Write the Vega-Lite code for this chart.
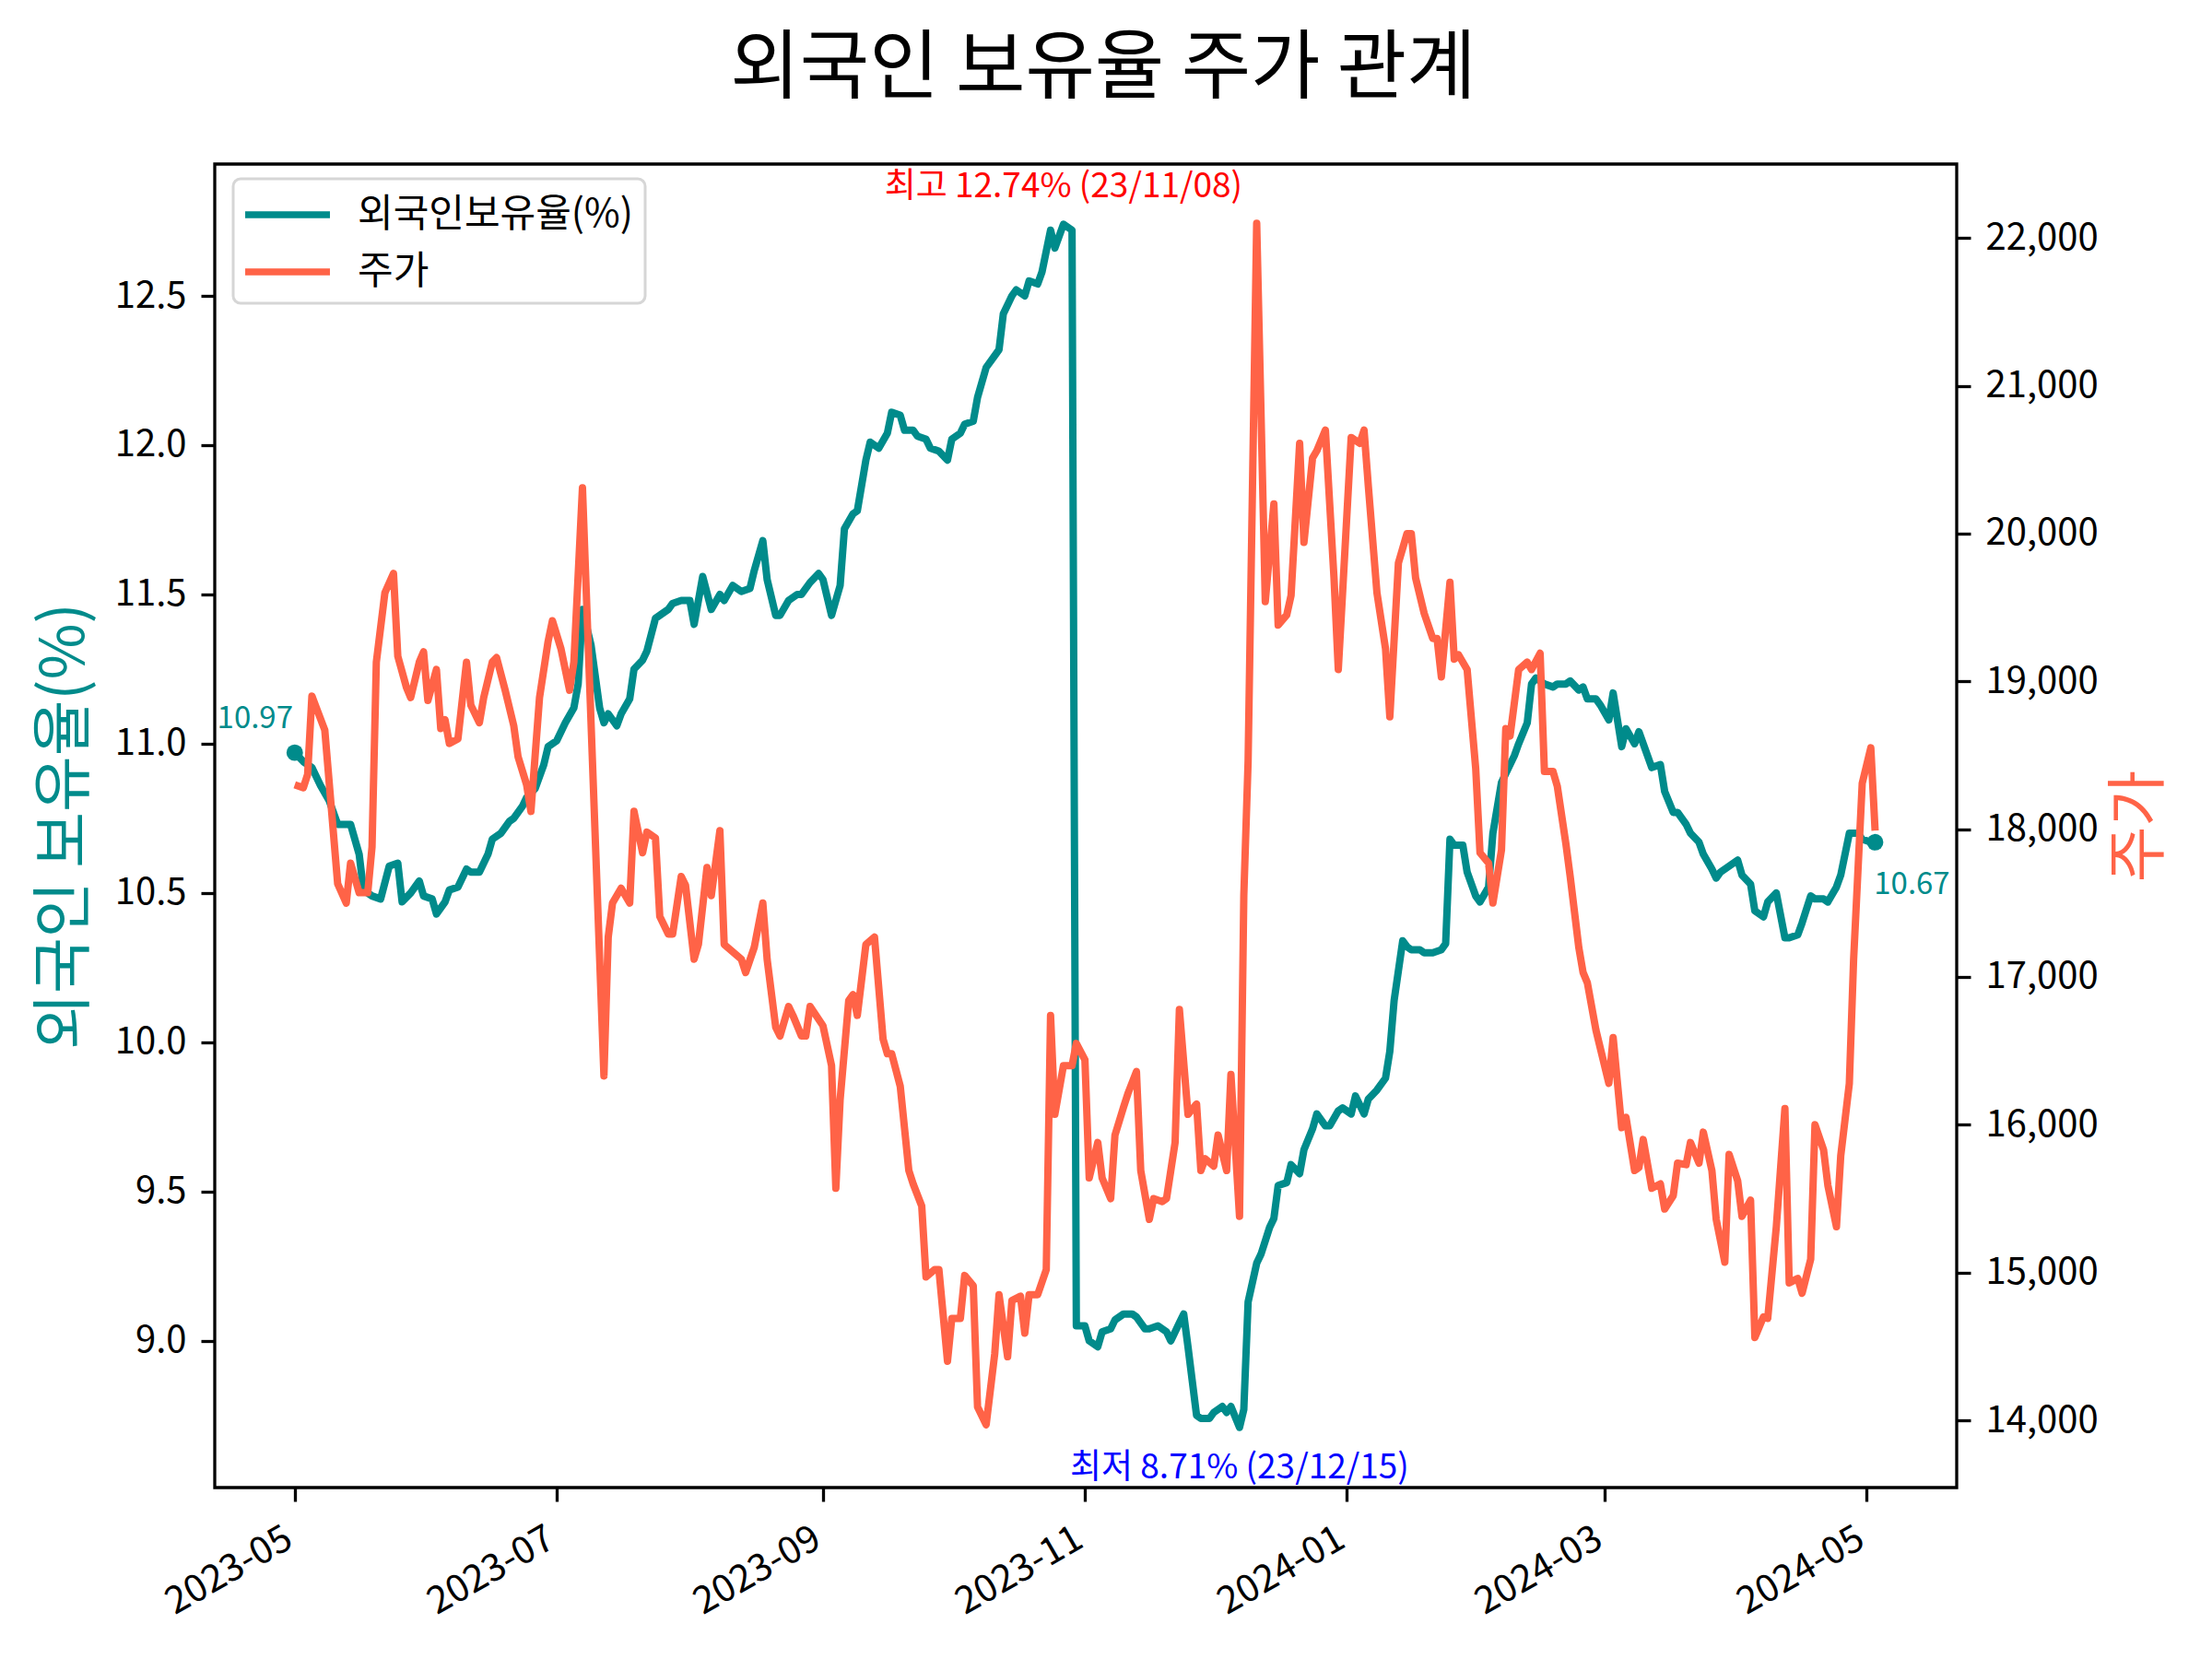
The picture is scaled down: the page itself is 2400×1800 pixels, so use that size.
{
  "$schema": "https://vega.github.io/schema/vega-lite/v6.json",
  "width": 1890,
  "height": 1436,
  "autosize": {"type": "none"},
  "padding": {"left": 233, "top": 178, "right": 277, "bottom": 186},
  "background": "white",
  "title": {
    "text": "외국인 보유율 주가 관계",
    "font": "Noto Sans CJK KR",
    "fontSize": 82,
    "fontWeight": "normal",
    "color": "black",
    "anchor": "middle",
    "frame": "group",
    "baseline": "alphabetic",
    "offset": 76,
    "dy": 80,
    "dx": 19
  },
  "datasets": {
    "ratio": [
      {"date": "2023-05-01", "ratio": 10.97}, {"date": "2023-05-03", "ratio": 10.94}, {"date": "2023-05-05", "ratio": 10.92},
      {"date": "2023-05-07", "ratio": 10.86}, {"date": "2023-05-09", "ratio": 10.81}, {"date": "2023-05-11", "ratio": 10.73},
      {"date": "2023-05-13", "ratio": 10.73}, {"date": "2023-05-14", "ratio": 10.73}, {"date": "2023-05-16", "ratio": 10.63},
      {"date": "2023-05-17", "ratio": 10.51}, {"date": "2023-05-19", "ratio": 10.49}, {"date": "2023-05-21", "ratio": 10.48},
      {"date": "2023-05-23", "ratio": 10.59}, {"date": "2023-05-25", "ratio": 10.60}, {"date": "2023-05-26", "ratio": 10.47},
      {"date": "2023-05-28", "ratio": 10.50}, {"date": "2023-05-30", "ratio": 10.54}, {"date": "2023-05-31", "ratio": 10.49},
      {"date": "2023-06-02", "ratio": 10.48}, {"date": "2023-06-03", "ratio": 10.43}, {"date": "2023-06-05", "ratio": 10.47},
      {"date": "2023-06-06", "ratio": 10.51}, {"date": "2023-06-08", "ratio": 10.52}, {"date": "2023-06-10", "ratio": 10.58},
      {"date": "2023-06-11", "ratio": 10.57}, {"date": "2023-06-13", "ratio": 10.57}, {"date": "2023-06-15", "ratio": 10.63},
      {"date": "2023-06-16", "ratio": 10.68}, {"date": "2023-06-18", "ratio": 10.70}, {"date": "2023-06-20", "ratio": 10.74},
      {"date": "2023-06-21", "ratio": 10.75}, {"date": "2023-06-23", "ratio": 10.79}, {"date": "2023-06-24", "ratio": 10.82},
      {"date": "2023-06-26", "ratio": 10.85}, {"date": "2023-06-28", "ratio": 10.93}, {"date": "2023-06-29", "ratio": 10.99},
      {"date": "2023-07-01", "ratio": 11.01}, {"date": "2023-07-03", "ratio": 11.07}, {"date": "2023-07-05", "ratio": 11.12},
      {"date": "2023-07-06", "ratio": 11.20}, {"date": "2023-07-07", "ratio": 11.45}, {"date": "2023-07-09", "ratio": 11.33},
      {"date": "2023-07-11", "ratio": 11.12}, {"date": "2023-07-12", "ratio": 11.07}, {"date": "2023-07-13", "ratio": 11.10},
      {"date": "2023-07-15", "ratio": 11.06}, {"date": "2023-07-16", "ratio": 11.10}, {"date": "2023-07-18", "ratio": 11.15},
      {"date": "2023-07-19", "ratio": 11.25}, {"date": "2023-07-21", "ratio": 11.28}, {"date": "2023-07-22", "ratio": 11.31},
      {"date": "2023-07-24", "ratio": 11.42}, {"date": "2023-07-25", "ratio": 11.43}, {"date": "2023-07-27", "ratio": 11.45},
      {"date": "2023-07-28", "ratio": 11.47}, {"date": "2023-07-30", "ratio": 11.48}, {"date": "2023-08-01", "ratio": 11.48},
      {"date": "2023-08-02", "ratio": 11.40}, {"date": "2023-08-04", "ratio": 11.56}, {"date": "2023-08-06", "ratio": 11.45},
      {"date": "2023-08-08", "ratio": 11.50}, {"date": "2023-08-09", "ratio": 11.48}, {"date": "2023-08-11", "ratio": 11.53},
      {"date": "2023-08-13", "ratio": 11.51}, {"date": "2023-08-15", "ratio": 11.52}, {"date": "2023-08-16", "ratio": 11.58},
      {"date": "2023-08-18", "ratio": 11.68}, {"date": "2023-08-19", "ratio": 11.55}, {"date": "2023-08-21", "ratio": 11.43},
      {"date": "2023-08-22", "ratio": 11.43}, {"date": "2023-08-24", "ratio": 11.48}, {"date": "2023-08-26", "ratio": 11.50},
      {"date": "2023-08-27", "ratio": 11.50}, {"date": "2023-08-29", "ratio": 11.54}, {"date": "2023-08-31", "ratio": 11.57},
      {"date": "2023-09-01", "ratio": 11.55}, {"date": "2023-09-03", "ratio": 11.43}, {"date": "2023-09-05", "ratio": 11.53},
      {"date": "2023-09-06", "ratio": 11.72}, {"date": "2023-09-08", "ratio": 11.77}, {"date": "2023-09-09", "ratio": 11.78},
      {"date": "2023-09-11", "ratio": 11.95}, {"date": "2023-09-12", "ratio": 12.01}, {"date": "2023-09-14", "ratio": 11.99},
      {"date": "2023-09-16", "ratio": 12.04}, {"date": "2023-09-17", "ratio": 12.11}, {"date": "2023-09-19", "ratio": 12.10},
      {"date": "2023-09-20", "ratio": 12.05}, {"date": "2023-09-22", "ratio": 12.05}, {"date": "2023-09-23", "ratio": 12.03},
      {"date": "2023-09-25", "ratio": 12.02}, {"date": "2023-09-26", "ratio": 11.99}, {"date": "2023-09-28", "ratio": 11.98},
      {"date": "2023-09-30", "ratio": 11.95}, {"date": "2023-10-01", "ratio": 12.02}, {"date": "2023-10-03", "ratio": 12.04},
      {"date": "2023-10-04", "ratio": 12.07}, {"date": "2023-10-06", "ratio": 12.08}, {"date": "2023-10-07", "ratio": 12.16},
      {"date": "2023-10-09", "ratio": 12.26}, {"date": "2023-10-11", "ratio": 12.30}, {"date": "2023-10-12", "ratio": 12.32},
      {"date": "2023-10-13", "ratio": 12.44}, {"date": "2023-10-15", "ratio": 12.50}, {"date": "2023-10-16", "ratio": 12.52},
      {"date": "2023-10-18", "ratio": 12.50}, {"date": "2023-10-19", "ratio": 12.55}, {"date": "2023-10-21", "ratio": 12.54},
      {"date": "2023-10-22", "ratio": 12.58}, {"date": "2023-10-24", "ratio": 12.72}, {"date": "2023-10-25", "ratio": 12.66},
      {"date": "2023-10-27", "ratio": 12.74}, {"date": "2023-10-29", "ratio": 12.72}, {"date": "2023-10-30", "ratio": 9.05},
      {"date": "2023-11-01", "ratio": 9.05}, {"date": "2023-11-02", "ratio": 9.00}, {"date": "2023-11-04", "ratio": 8.98},
      {"date": "2023-11-05", "ratio": 9.03}, {"date": "2023-11-07", "ratio": 9.04}, {"date": "2023-11-08", "ratio": 9.07},
      {"date": "2023-11-10", "ratio": 9.09}, {"date": "2023-11-12", "ratio": 9.09}, {"date": "2023-11-13", "ratio": 9.08},
      {"date": "2023-11-15", "ratio": 9.04}, {"date": "2023-11-16", "ratio": 9.04}, {"date": "2023-11-18", "ratio": 9.05},
      {"date": "2023-11-20", "ratio": 9.03}, {"date": "2023-11-21", "ratio": 9.00}, {"date": "2023-11-23", "ratio": 9.06},
      {"date": "2023-11-24", "ratio": 9.09}, {"date": "2023-11-25", "ratio": 8.98}, {"date": "2023-11-27", "ratio": 8.75},
      {"date": "2023-11-28", "ratio": 8.74}, {"date": "2023-11-30", "ratio": 8.74}, {"date": "2023-12-01", "ratio": 8.76},
      {"date": "2023-12-03", "ratio": 8.78}, {"date": "2023-12-04", "ratio": 8.76}, {"date": "2023-12-05", "ratio": 8.78},
      {"date": "2023-12-07", "ratio": 8.71}, {"date": "2023-12-08", "ratio": 8.77}, {"date": "2023-12-09", "ratio": 9.13},
      {"date": "2023-12-11", "ratio": 9.26}, {"date": "2023-12-12", "ratio": 9.29}, {"date": "2023-12-14", "ratio": 9.38},
      {"date": "2023-12-15", "ratio": 9.41}, {"date": "2023-12-16", "ratio": 9.52}, {"date": "2023-12-18", "ratio": 9.53},
      {"date": "2023-12-19", "ratio": 9.59}, {"date": "2023-12-21", "ratio": 9.56}, {"date": "2023-12-22", "ratio": 9.64},
      {"date": "2023-12-24", "ratio": 9.71}, {"date": "2023-12-25", "ratio": 9.76}, {"date": "2023-12-27", "ratio": 9.72},
      {"date": "2023-12-28", "ratio": 9.72}, {"date": "2023-12-30", "ratio": 9.77}, {"date": "2023-12-31", "ratio": 9.78},
      {"date": "2024-01-02", "ratio": 9.76}, {"date": "2024-01-03", "ratio": 9.82}, {"date": "2024-01-05", "ratio": 9.76},
      {"date": "2024-01-06", "ratio": 9.81}, {"date": "2024-01-08", "ratio": 9.84}, {"date": "2024-01-10", "ratio": 9.88},
      {"date": "2024-01-11", "ratio": 9.97}, {"date": "2024-01-12", "ratio": 10.14}, {"date": "2024-01-14", "ratio": 10.34},
      {"date": "2024-01-15", "ratio": 10.32}, {"date": "2024-01-16", "ratio": 10.31}, {"date": "2024-01-18", "ratio": 10.31},
      {"date": "2024-01-19", "ratio": 10.30}, {"date": "2024-01-21", "ratio": 10.30}, {"date": "2024-01-23", "ratio": 10.31},
      {"date": "2024-01-24", "ratio": 10.33}, {"date": "2024-01-25", "ratio": 10.68}, {"date": "2024-01-26", "ratio": 10.66},
      {"date": "2024-01-28", "ratio": 10.66}, {"date": "2024-01-29", "ratio": 10.57}, {"date": "2024-01-31", "ratio": 10.49},
      {"date": "2024-02-01", "ratio": 10.47}, {"date": "2024-02-03", "ratio": 10.52}, {"date": "2024-02-04", "ratio": 10.70},
      {"date": "2024-02-06", "ratio": 10.87}, {"date": "2024-02-07", "ratio": 10.90}, {"date": "2024-02-09", "ratio": 10.96},
      {"date": "2024-02-10", "ratio": 11.00}, {"date": "2024-02-12", "ratio": 11.07}, {"date": "2024-02-13", "ratio": 11.20},
      {"date": "2024-02-14", "ratio": 11.22}, {"date": "2024-02-16", "ratio": 11.20}, {"date": "2024-02-18", "ratio": 11.19},
      {"date": "2024-02-19", "ratio": 11.20}, {"date": "2024-02-21", "ratio": 11.20}, {"date": "2024-02-22", "ratio": 11.21},
      {"date": "2024-02-24", "ratio": 11.18}, {"date": "2024-02-25", "ratio": 11.19}, {"date": "2024-02-26", "ratio": 11.15},
      {"date": "2024-02-28", "ratio": 11.15}, {"date": "2024-02-29", "ratio": 11.13}, {"date": "2024-03-02", "ratio": 11.08},
      {"date": "2024-03-03", "ratio": 11.17}, {"date": "2024-03-05", "ratio": 10.99}, {"date": "2024-03-06", "ratio": 11.05},
      {"date": "2024-03-08", "ratio": 11.00}, {"date": "2024-03-09", "ratio": 11.04}, {"date": "2024-03-10", "ratio": 11.00},
      {"date": "2024-03-12", "ratio": 10.92}, {"date": "2024-03-14", "ratio": 10.93}, {"date": "2024-03-15", "ratio": 10.84},
      {"date": "2024-03-17", "ratio": 10.77}, {"date": "2024-03-18", "ratio": 10.77}, {"date": "2024-03-20", "ratio": 10.73},
      {"date": "2024-03-21", "ratio": 10.70}, {"date": "2024-03-23", "ratio": 10.67}, {"date": "2024-03-24", "ratio": 10.63},
      {"date": "2024-03-26", "ratio": 10.58}, {"date": "2024-03-27", "ratio": 10.55}, {"date": "2024-03-28", "ratio": 10.57},
      {"date": "2024-03-30", "ratio": 10.59}, {"date": "2024-04-01", "ratio": 10.61}, {"date": "2024-04-02", "ratio": 10.56},
      {"date": "2024-04-04", "ratio": 10.53}, {"date": "2024-04-05", "ratio": 10.44}, {"date": "2024-04-07", "ratio": 10.42},
      {"date": "2024-04-08", "ratio": 10.47}, {"date": "2024-04-10", "ratio": 10.50}, {"date": "2024-04-12", "ratio": 10.35},
      {"date": "2024-04-13", "ratio": 10.35}, {"date": "2024-04-15", "ratio": 10.36}, {"date": "2024-04-16", "ratio": 10.40},
      {"date": "2024-04-18", "ratio": 10.49}, {"date": "2024-04-19", "ratio": 10.48}, {"date": "2024-04-21", "ratio": 10.48},
      {"date": "2024-04-22", "ratio": 10.47}, {"date": "2024-04-24", "ratio": 10.52}, {"date": "2024-04-25", "ratio": 10.56},
      {"date": "2024-04-27", "ratio": 10.70}, {"date": "2024-04-29", "ratio": 10.70}, {"date": "2024-04-30", "ratio": 10.68},
      {"date": "2024-05-02", "ratio": 10.67}, {"date": "2024-05-03", "ratio": 10.67}
    ],
    "price": [
      {"date": "2023-05-01", "price": 18300}, {"date": "2023-05-03", "price": 18280}, {"date": "2023-05-04", "price": 18370},
      {"date": "2023-05-05", "price": 18900},
      {"date": "2023-05-08", "price": 18670}, {"date": "2023-05-11", "price": 17630}, {"date": "2023-05-13", "price": 17500},
      {"date": "2023-05-14", "price": 17770}, {"date": "2023-05-16", "price": 17570}, {"date": "2023-05-18", "price": 17570},
      {"date": "2023-05-19", "price": 17880}, {"date": "2023-05-20", "price": 19130}, {"date": "2023-05-22", "price": 19600},
      {"date": "2023-05-24", "price": 19730}, {"date": "2023-05-25", "price": 19170}, {"date": "2023-05-27", "price": 18960},
      {"date": "2023-05-28", "price": 18890}, {"date": "2023-05-30", "price": 19130}, {"date": "2023-05-31", "price": 19200},
      {"date": "2023-06-01", "price": 18870}, {"date": "2023-06-03", "price": 19080}, {"date": "2023-06-04", "price": 18680},
      {"date": "2023-06-05", "price": 18740}, {"date": "2023-06-06", "price": 18580}, {"date": "2023-06-08", "price": 18610},
      {"date": "2023-06-10", "price": 19130}, {"date": "2023-06-11", "price": 18840}, {"date": "2023-06-13", "price": 18720},
      {"date": "2023-06-14", "price": 18890}, {"date": "2023-06-16", "price": 19130}, {"date": "2023-06-17", "price": 19160},
      {"date": "2023-06-19", "price": 18940}, {"date": "2023-06-21", "price": 18700}, {"date": "2023-06-22", "price": 18490},
      {"date": "2023-06-24", "price": 18300}, {"date": "2023-06-25", "price": 18120}, {"date": "2023-06-27", "price": 18890},
      {"date": "2023-06-29", "price": 19270}, {"date": "2023-06-30", "price": 19410}, {"date": "2023-07-02", "price": 19220},
      {"date": "2023-07-04", "price": 18940}, {"date": "2023-07-05", "price": 19130}, {"date": "2023-07-07", "price": 20310},
      {"date": "2023-07-12", "price": 16330}, {"date": "2023-07-13", "price": 17270}, {"date": "2023-07-14", "price": 17500},
      {"date": "2023-07-16", "price": 17600}, {"date": "2023-07-18", "price": 17500}, {"date": "2023-07-19", "price": 18120},
      {"date": "2023-07-21", "price": 17840}, {"date": "2023-07-22", "price": 17980}, {"date": "2023-07-24", "price": 17940},
      {"date": "2023-07-25", "price": 17410}, {"date": "2023-07-27", "price": 17290}, {"date": "2023-07-28", "price": 17290},
      {"date": "2023-07-30", "price": 17680}, {"date": "2023-07-31", "price": 17620}, {"date": "2023-08-02", "price": 17120},
      {"date": "2023-08-03", "price": 17220}, {"date": "2023-08-05", "price": 17740}, {"date": "2023-08-06", "price": 17550},
      {"date": "2023-08-08", "price": 17990}, {"date": "2023-08-09", "price": 17220}, {"date": "2023-08-11", "price": 17170},
      {"date": "2023-08-13", "price": 17120}, {"date": "2023-08-14", "price": 17030}, {"date": "2023-08-16", "price": 17200},
      {"date": "2023-08-18", "price": 17500}, {"date": "2023-08-19", "price": 17120}, {"date": "2023-08-21", "price": 16660},
      {"date": "2023-08-22", "price": 16600}, {"date": "2023-08-24", "price": 16800}, {"date": "2023-08-25", "price": 16740},
      {"date": "2023-08-27", "price": 16600}, {"date": "2023-08-28", "price": 16600}, {"date": "2023-08-29", "price": 16800},
      {"date": "2023-09-01", "price": 16670}, {"date": "2023-09-03", "price": 16400}, {"date": "2023-09-04", "price": 15570},
      {"date": "2023-09-05", "price": 16170}, {"date": "2023-09-07", "price": 16840}, {"date": "2023-09-08", "price": 16880},
      {"date": "2023-09-09", "price": 16740}, {"date": "2023-09-11", "price": 17220}, {"date": "2023-09-13", "price": 17270},
      {"date": "2023-09-15", "price": 16580}, {"date": "2023-09-16", "price": 16480}, {"date": "2023-09-17", "price": 16480},
      {"date": "2023-09-19", "price": 16260}, {"date": "2023-09-21", "price": 15690}, {"date": "2023-09-22", "price": 15600},
      {"date": "2023-09-24", "price": 15450}, {"date": "2023-09-25", "price": 14970}, {"date": "2023-09-27", "price": 15020},
      {"date": "2023-09-28", "price": 15020}, {"date": "2023-09-30", "price": 14400}, {"date": "2023-10-01", "price": 14690},
      {"date": "2023-10-03", "price": 14690}, {"date": "2023-10-04", "price": 14980}, {"date": "2023-10-06", "price": 14910},
      {"date": "2023-10-07", "price": 14090}, {"date": "2023-10-09", "price": 13970}, {"date": "2023-10-11", "price": 14450},
      {"date": "2023-10-12", "price": 14850}, {"date": "2023-10-14", "price": 14430}, {"date": "2023-10-15", "price": 14810},
      {"date": "2023-10-17", "price": 14840}, {"date": "2023-10-18", "price": 14590}, {"date": "2023-10-19", "price": 14850},
      {"date": "2023-10-21", "price": 14850}, {"date": "2023-10-23", "price": 15020}, {"date": "2023-10-24", "price": 16740},
      {"date": "2023-10-25", "price": 16070}, {"date": "2023-10-27", "price": 16400}, {"date": "2023-10-29", "price": 16400},
      {"date": "2023-10-30", "price": 16550}, {"date": "2023-11-01", "price": 16440}, {"date": "2023-11-02", "price": 15640},
      {"date": "2023-11-04", "price": 15880}, {"date": "2023-11-05", "price": 15640}, {"date": "2023-11-07", "price": 15500},
      {"date": "2023-11-08", "price": 15930}, {"date": "2023-11-10", "price": 16120}, {"date": "2023-11-11", "price": 16210},
      {"date": "2023-11-13", "price": 16360}, {"date": "2023-11-14", "price": 15690}, {"date": "2023-11-16", "price": 15360},
      {"date": "2023-11-17", "price": 15500}, {"date": "2023-11-19", "price": 15480}, {"date": "2023-11-20", "price": 15500},
      {"date": "2023-11-22", "price": 15880}, {"date": "2023-11-23", "price": 16780}, {"date": "2023-11-25", "price": 16070},
      {"date": "2023-11-27", "price": 16140}, {"date": "2023-11-28", "price": 15690}, {"date": "2023-11-29", "price": 15770},
      {"date": "2023-12-01", "price": 15720}, {"date": "2023-12-02", "price": 15930}, {"date": "2023-12-04", "price": 15690},
      {"date": "2023-12-05", "price": 16340}, {"date": "2023-12-07", "price": 15380}, {"date": "2023-12-08", "price": 17550},
      {"date": "2023-12-09", "price": 18460}, {"date": "2023-12-11", "price": 22100}, {"date": "2023-12-13", "price": 19540},
      {"date": "2023-12-15", "price": 20200}, {"date": "2023-12-16", "price": 19380}, {"date": "2023-12-18", "price": 19450},
      {"date": "2023-12-19", "price": 19580}, {"date": "2023-12-21", "price": 20610}, {"date": "2023-12-22", "price": 19940},
      {"date": "2023-12-24", "price": 20510}, {"date": "2023-12-25", "price": 20560}, {"date": "2023-12-27", "price": 20700},
      {"date": "2023-12-29", "price": 19700}, {"date": "2023-12-30", "price": 19080}, {"date": "2023-12-31", "price": 19600},
      {"date": "2024-01-02", "price": 20650}, {"date": "2024-01-04", "price": 20610}, {"date": "2024-01-05", "price": 20700},
      {"date": "2024-01-06", "price": 20320}, {"date": "2024-01-08", "price": 19600}, {"date": "2024-01-10", "price": 19220},
      {"date": "2024-01-11", "price": 18760}, {"date": "2024-01-13", "price": 19800}, {"date": "2024-01-15", "price": 20000},
      {"date": "2024-01-16", "price": 20000}, {"date": "2024-01-17", "price": 19700}, {"date": "2024-01-19", "price": 19460},
      {"date": "2024-01-21", "price": 19290}, {"date": "2024-01-22", "price": 19290}, {"date": "2024-01-23", "price": 19030},
      {"date": "2024-01-25", "price": 19670}, {"date": "2024-01-26", "price": 19150}, {"date": "2024-01-27", "price": 19180},
      {"date": "2024-01-29", "price": 19080}, {"date": "2024-01-31", "price": 18410}, {"date": "2024-02-01", "price": 17840},
      {"date": "2024-02-03", "price": 17770}, {"date": "2024-02-04", "price": 17500}, {"date": "2024-02-06", "price": 17860},
      {"date": "2024-02-07", "price": 18680}, {"date": "2024-02-08", "price": 18630}, {"date": "2024-02-10", "price": 19080},
      {"date": "2024-02-12", "price": 19130}, {"date": "2024-02-13", "price": 19080}, {"date": "2024-02-15", "price": 19190},
      {"date": "2024-02-16", "price": 18390}, {"date": "2024-02-18", "price": 18390}, {"date": "2024-02-19", "price": 18290},
      {"date": "2024-02-21", "price": 17900}, {"date": "2024-02-22", "price": 17680}, {"date": "2024-02-24", "price": 17200},
      {"date": "2024-02-25", "price": 17030}, {"date": "2024-02-26", "price": 16960}, {"date": "2024-02-28", "price": 16640},
      {"date": "2024-02-29", "price": 16520}, {"date": "2024-03-02", "price": 16280}, {"date": "2024-03-03", "price": 16590},
      {"date": "2024-03-05", "price": 15980}, {"date": "2024-03-06", "price": 16050}, {"date": "2024-03-08", "price": 15690},
      {"date": "2024-03-09", "price": 15710}, {"date": "2024-03-10", "price": 15900}, {"date": "2024-03-12", "price": 15570},
      {"date": "2024-03-14", "price": 15600}, {"date": "2024-03-15", "price": 15430}, {"date": "2024-03-17", "price": 15520},
      {"date": "2024-03-18", "price": 15740}, {"date": "2024-03-20", "price": 15730}, {"date": "2024-03-21", "price": 15880},
      {"date": "2024-03-23", "price": 15740}, {"date": "2024-03-24", "price": 15950}, {"date": "2024-03-26", "price": 15690},
      {"date": "2024-03-27", "price": 15360}, {"date": "2024-03-29", "price": 15070}, {"date": "2024-03-30", "price": 15800},
      {"date": "2024-04-01", "price": 15620}, {"date": "2024-04-02", "price": 15380}, {"date": "2024-04-04", "price": 15490},
      {"date": "2024-04-05", "price": 14560}, {"date": "2024-04-07", "price": 14700}, {"date": "2024-04-08", "price": 14690},
      {"date": "2024-04-10", "price": 15310}, {"date": "2024-04-12", "price": 16110}, {"date": "2024-04-13", "price": 14930},
      {"date": "2024-04-15", "price": 14960}, {"date": "2024-04-16", "price": 14860}, {"date": "2024-04-18", "price": 15090},
      {"date": "2024-04-19", "price": 16000}, {"date": "2024-04-21", "price": 15830}, {"date": "2024-04-22", "price": 15590},
      {"date": "2024-04-24", "price": 15310}, {"date": "2024-04-25", "price": 15790}, {"date": "2024-04-27", "price": 16280},
      {"date": "2024-04-28", "price": 17120}, {"date": "2024-04-30", "price": 18310}, {"date": "2024-05-02", "price": 18550},
      {"date": "2024-05-03", "price": 17990}
    ],
    "notes": [
      {"date": "2023-05-01", "ratio": 10.97, "kind": "start", "label": "10.97"},
      {"date": "2024-05-03", "ratio": 10.67, "kind": "end", "label": "10.67"},
      {"date": "2023-10-27", "ratio": 12.74, "kind": "max", "label": "최고 12.74% (23/11/08)"},
      {"date": "2023-12-07", "ratio": 8.71, "kind": "min", "label": "최저 8.71% (23/12/15)"}
    ]
  },
  "layer": [
    {
      "data": {"name": "ratio"},
      "mark": {"type": "line", "strokeWidth": 8, "strokeJoin": "round"},
      "encoding": {
        "x": {
          "field": "date",
          "type": "temporal",
          "scale": {
            "type": "utc",
            "domain": [
              {"year": 2023, "month": 4, "date": 12, "hours": 9, "utc": true},
              {"year": 2024, "month": 5, "date": 22, "hours": 0, "utc": true}
            ]
          },
          "axis": {
            "title": null,
            "values": [
              {"year": 2023, "month": 5, "date": 1, "utc": true},
              {"year": 2023, "month": 7, "date": 1, "utc": true},
              {"year": 2023, "month": 9, "date": 1, "utc": true},
              {"year": 2023, "month": 11, "date": 1, "utc": true},
              {"year": 2024, "month": 1, "date": 1, "utc": true},
              {"year": 2024, "month": 3, "date": 1, "utc": true},
              {"year": 2024, "month": 5, "date": 1, "utc": true}
            ],
            "format": "%Y-%m",
            "labelAngle": -30,
            "labelAlign": "right",
            "labelBaseline": "top",
            "labelPadding": 20,
            "labelOffset": -16,
            "labelFontSize": 41
          }
        },
        "y": {
          "field": "ratio",
          "type": "quantitative",
          "scale": {"domain": [8.5085, 12.9415], "nice": false, "zero": false},
          "axis": {
            "orient": "left",
            "title": "외국인 보유율(%)",
            "values": [9, 9.5, 10, 10.5, 11, 11.5, 12, 12.5],
            "format": ".1f",
            "titleColor": "#008B8B",
            "titleFontSize": 66,
            "titleAngle": 270,
            "titleAlign": "center",
            "titleBaseline": "middle",
            "titleX": -163
          }
        },
        "color": {
          "datum": "외국인보유율(%)",
          "type": "nominal",
          "scale": {"domain": ["외국인보유율(%)", "주가"], "range": ["#008B8B", "#FF6347"]},
          "legend": {
            "orient": "none",
            "legendX": 20,
            "legendY": 16,
            "title": null
          }
        }
      }
    },
    {
      "data": {"name": "price"},
      "mark": {"type": "line", "strokeWidth": 8, "strokeJoin": "round"},
      "encoding": {
        "x": {"field": "date", "type": "temporal"},
        "y": {
          "field": "price",
          "type": "quantitative",
          "scale": {"domain": [13545, 22500], "nice": false, "zero": false},
          "axis": {
            "orient": "right",
            "title": "주가",
            "values": [14000, 15000, 16000, 17000, 18000, 19000, 20000, 21000, 22000],
            "format": ",d",
            "titleColor": "#FF6347",
            "titleFontSize": 66,
            "titleAngle": 270,
            "titleAlign": "center",
            "titleBaseline": "middle",
            "titleX": 198
          }
        },
        "color": {"datum": "주가", "type": "nominal"}
      }
    },
    {
      "data": {"name": "notes"},
      "encoding": {
        "x": {"field": "date", "type": "temporal"},
        "y": {
          "field": "ratio",
          "type": "quantitative",
          "scale": {"domain": [8.5085, 12.9415], "nice": false, "zero": false},
          "axis": null
        }
      },
      "layer": [
        {
          "transform": [{"filter": "datum.kind === 'start' || datum.kind === 'end'"}],
          "mark": {"type": "point", "filled": true, "size": 320, "color": "#008B8B", "opacity": 1}
        },
        {
          "transform": [{"filter": "datum.kind === 'start'"}],
          "mark": {"type": "text", "dx": -43, "dy": -37, "fontSize": 33, "color": "#008B8B"},
          "encoding": {"text": {"field": "label"}}
        },
        {
          "transform": [{"filter": "datum.kind === 'end'"}],
          "mark": {"type": "text", "dx": 40, "dy": 46, "fontSize": 33, "color": "#008B8B"},
          "encoding": {"text": {"field": "label"}}
        },
        {
          "transform": [{"filter": "datum.kind === 'max'"}],
          "mark": {"type": "text", "dy": -40, "fontSize": 37, "color": "#FF0000"},
          "encoding": {"text": {"field": "label"}}
        },
        {
          "transform": [{"filter": "datum.kind === 'min'"}],
          "mark": {"type": "text", "dy": 44, "fontSize": 37, "color": "#0000FF"},
          "encoding": {"text": {"field": "label"}}
        }
      ]
    }
  ],
  "resolve": {"scale": {"y": "independent"}},
  "config": {
    "font": "Noto Sans CJK KR",
    "view": {"stroke": "black", "strokeWidth": 3.3},
    "axis": {
      "labelFont": "Noto Sans CJK KR",
      "labelFontSize": 40,
      "labelColor": "black",
      "labelPadding": 16,
      "tickColor": "black",
      "tickSize": 15,
      "tickWidth": 3.3,
      "domain": false,
      "grid": false,
      "titleFont": "Noto Sans CJK KR",
      "titleFontWeight": "normal"
    },
    "legend": {
      "labelFont": "Noto Sans CJK KR",
      "labelFontSize": 42,
      "labelColor": "black",
      "labelLimit": 600,
      "symbolType": "M-2.09,0H2.09",
      "symbolSize": 1936,
      "symbolStrokeWidth": 7.5,
      "symbolOffset": 20,
      "labelOffset": 50,
      "rowPadding": 15,
      "padding": 13,
      "strokeColor": "#d6d6d6",
      "strokeWidth": 3,
      "cornerRadius": 8,
      "fillColor": "white"
    },
    "text": {"font": "Noto Sans CJK KR"}
  }
}
